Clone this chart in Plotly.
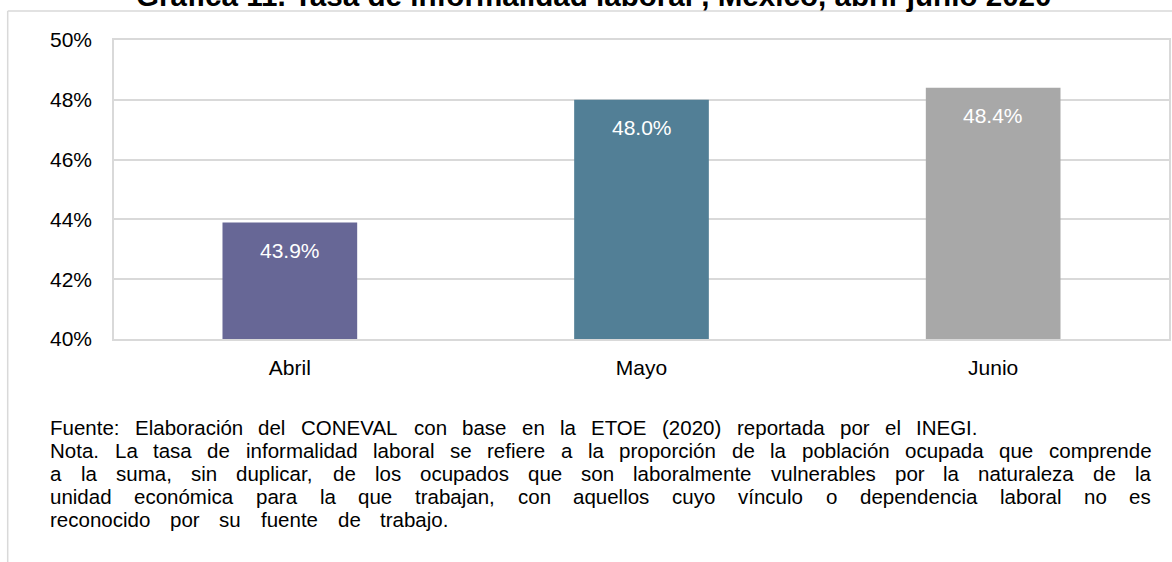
import plotly.graph_objects as go

# ---------------- data ----------------
categories = ["Abril", "Mayo", "Junio"]
values = [43.9, 48.0, 48.4]
bar_colors = ["#676796", "#527f96", "#a8a8a8"]
y_tick_vals = [40, 42, 44, 46, 48, 50]
y_tick_text = ["40%", "42%", "44%", "46%", "48%", "50%"]
title_text = "Gráfica 11. Tasa de informalidad laboral , México, abril-junio 2020"
note_lines = [
    "Fuente: Elaboración  del CONEVAL  con base en la ETOE  (2020) reportada por el INEGI.",
    "Nota. La tasa de informalidad laboral se refiere a la proporción de la población ocupada que comprende",
    "a la suma, sin duplicar, de los ocupados que son laboralmente vulnerables por la naturaleza de la",
    "unidad económica para la que trabajan, con aquellos cuyo vínculo o dependencia laboral no es",
    "reconocido por su fuente de trabajo.",
]

# ---------------- layout geometry (page pixels) ----------------
W, H = 1172, 562
L, R, T, B = 114, 1171, 40, 339   # plot area edges
FONT = "Liberation Sans, Arial, sans-serif"
GRID = "#d9d9d9"


def px_x(px):
    return (px - L) / (R - L)


def px_y(py):
    return (B - py) / (B - T)


# Arial / Liberation Sans advance widths (per 1000 em)
AW = {' ': 278, '.': 278, ',': 278, ':': 278, '(': 333, ')': 333, '-': 333, '%': 889}
for ch in "0123456789":
    AW[ch] = 556
AW.update({'a': 556, 'b': 556, 'c': 500, 'd': 556, 'e': 556, 'f': 278, 'g': 556, 'h': 556,
           'i': 222, 'j': 222, 'k': 500, 'l': 222, 'm': 833, 'n': 556, 'o': 556, 'p': 556,
           'q': 556, 'r': 333, 's': 500, 't': 278, 'u': 556, 'v': 500, 'w': 722, 'x': 500,
           'y': 500, 'z': 500, 'á': 556, 'é': 556, 'í': 278, 'ó': 556, 'ú': 556,
           'A': 667, 'B': 667, 'C': 722, 'D': 722, 'E': 667, 'F': 611, 'G': 778, 'H': 722,
           'I': 278, 'J': 500, 'K': 667, 'L': 556, 'M': 833, 'N': 722, 'O': 778, 'P': 667,
           'Q': 778, 'R': 722, 'S': 667, 'T': 611, 'U': 722, 'V': 667, 'W': 944, 'X': 667,
           'Y': 667, 'Z': 611})


def text_w(s, fs):
    return sum(AW.get(c, 556) for c in s) * fs / 1000.0


fig = go.Figure()
fig.add_trace(go.Bar(
    x=categories, y=values,
    marker=dict(color=bar_colors, line=dict(width=0)),
    showlegend=False, hoverinfo="x+y",
))

annotations = []
# data labels inside the bars, near the top
for c, v in zip(categories, values):
    annotations.append(dict(
        x=c, y=v, xref="x", yref="y", text=f"{v:.1f}%", showarrow=False,
        yanchor="middle", xanchor="center", yshift=-28,
        font=dict(family=FONT, size=21, color="#ffffff"),
    ))

# title (partially cut at the top, as in the reference)
annotations.append(dict(
    x=px_x(595), y=px_y(13), xref="paper", yref="paper", text=f"<b>{title_text}</b>",
    showarrow=False, xanchor="center", yanchor="bottom", borderpad=0,
    font=dict(family=FONT, size=29.6, color="#000000"),
))

# footnote, spread across each line like the source
NFS = 20.5
X0 = 49
line_ends = [978, 1152, 1152, 1152, 448]
baselines = [435, 458, 481, 504, 527]
for line, x_end, base in zip(note_lines, line_ends, baselines):
    cy = px_y(base - 0.3465 * NFS)
    words = [w for w in line.split(" ") if w]
    widths = [text_w(w, NFS) for w in words]
    gap = (x_end - X0 - sum(widths)) / (len(words) - 1)
    xpos = X0
    for w, wd in zip(words, widths):
        annotations.append(dict(
            x=px_x(xpos), y=cy, xref="paper", yref="paper", text=w,
            showarrow=False, xanchor="left", yanchor="middle", borderpad=0,
            font=dict(family=FONT, size=NFS, color="#000000"),
        ))
        xpos += wd + gap

# outer frame lines (left and top)
shapes = [
    dict(type="line", xref="paper", yref="paper", x0=px_x(7.5), x1=px_x(7.5), y0=px_y(11), y1=px_y(H + 2),
         line=dict(color=GRID, width=1.5), layer="below"),
    dict(type="line", xref="paper", yref="paper", x0=px_x(7.5), x1=px_x(W + 2), y0=px_y(11), y1=px_y(11),
         line=dict(color=GRID, width=1.5), layer="below"),
]

fig.update_layout(
    width=W, height=H,
    margin=dict(l=L, r=W - R, t=T, b=H - B, pad=0),
    paper_bgcolor="#ffffff", plot_bgcolor="#ffffff",
    bargap=0.617,
    font=dict(family=FONT, size=21, color="#000000"),
    annotations=annotations, shapes=shapes,
    xaxis=dict(
        type="category", range=[-0.5, 2.5], showgrid=False,
        showline=True, mirror=True, linecolor=GRID, linewidth=1.5,
        ticks="", ticklabelstandoff=9,
        tickfont=dict(family=FONT, size=21, color="#000000"),
        fixedrange=True,
    ),
    yaxis=dict(
        range=[40, 50], tickvals=y_tick_vals, ticktext=y_tick_text,
        showgrid=True, gridcolor=GRID, gridwidth=1.5,
        showline=True, mirror=True, linecolor=GRID, linewidth=1.5,
        zeroline=False, ticks="", ticklabelstandoff=16,
        tickfont=dict(family=FONT, size=21, color="#000000"),
        fixedrange=True,
    ),
)

fig.write_html(
    "out.html",
    config={"displayModeBar": False},
    post_script="document.body.style.margin='0';document.body.style.overflow='hidden';",
)
